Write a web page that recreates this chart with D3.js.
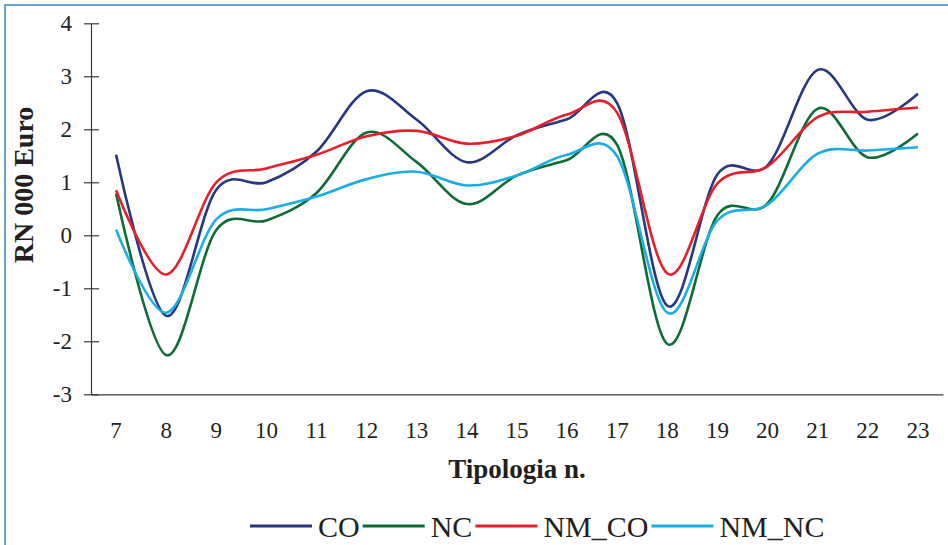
<!DOCTYPE html>
<html>
<head>
<meta charset="utf-8">
<script src="https://cdn.jsdelivr.net/npm/d3@7"></script>
<style>
  html, body { margin: 0; padding: 0; background: #fff; }
  svg { display: block; }
  text { font-family: "Liberation Serif", "Times New Roman", serif; fill: #231f20; }
</style>
</head>
<body>
<svg id="chart" width="948" height="545"></svg>
<script>
// Tipologia categories and net income (RN, thousand euro) per series
const categories = [7, 8, 9, 10, 11, 12, 13, 14, 15, 16, 17, 18, 19, 20, 21, 22, 23];
const CO    = [1.52, -1.52, 0.86, 1.00, 1.58, 2.72, 2.18, 1.38, 1.89, 2.19, 2.49, -1.33, 1.15, 1.32, 3.12, 2.18, 2.67];
const NC    = [0.79, -2.26, 0.10, 0.28, 0.80, 1.94, 1.38, 0.59, 1.13, 1.42, 1.70, -2.05, 0.38, 0.60, 2.39, 1.47, 1.92];
const NM_CO = [0.85, -0.74, 1.00, 1.26, 1.52, 1.87, 1.97, 1.73, 1.88, 2.28, 2.31, -0.72, 0.98, 1.30, 2.23, 2.33, 2.41];
const NM_NC = [0.11, -1.46, 0.30, 0.49, 0.73, 1.06, 1.20, 0.94, 1.13, 1.52, 1.49, -1.46, 0.28, 0.58, 1.54, 1.60, 1.66];
const yTicks = [-3, -2, -1, 0, 1, 2, 3, 4];
const seriesNames = ["CO", "NC", "NM_CO", "NM_NC"];
const seriesColors = ["#26387f", "#0d6b37", "#e5202b", "#1badE4"];

(function () {
  const seriesValues = [CO, NC, NM_CO, NM_NC];
  const series = seriesNames.map((name, i) => ({
    name,
    color: seriesColors[i],
    values: categories.map((c, j) => ({ cat: c, v: seriesValues[i][j] }))
  }));

  const svg = d3.select("#chart");

  // outer frame
  svg.append("rect")
    .attr("x", 5).attr("y", 5)
    .attr("width", 960).attr("height", 560)
    .attr("fill", "none")
    .attr("stroke", "#3b87c9")
    .attr("stroke-width", 1.5);

  const plotLeft = 91, plotRight = 943, plotTop = 23.3, plotBottom = 394.3;

  const x = d3.scaleBand().domain(categories).range([plotLeft, plotRight]);
  const y = d3.scaleLinear().domain([-3, 4]).range([plotBottom, plotTop]);
  const cx = c => x(c) + x.bandwidth() / 2;

  // y axis with ticks crossing the axis line
  const yAxis = svg.append("g").attr("transform", `translate(${plotLeft},0)`)
    .call(d3.axisLeft(y).tickValues(yTicks).tickSize(0).tickPadding(19).tickFormat(d => String(d)));
  yAxis.select(".domain").attr("stroke", "#3a3a3a").attr("stroke-width", 1.2);
  yAxis.selectAll(".tick line").remove();
  yAxis.selectAll(".tick").append("line")
    .attr("x1", -7).attr("x2", 8)
    .attr("stroke", "#3a3a3a").attr("stroke-width", 1.2);
  yAxis.selectAll(".tick text")
    .attr("font-size", 23)
    .attr("font-family", "Liberation Serif, serif")
    .attr("fill", "#231f20");

  // x axis: baseline only, labels under each category
  const xAxis = svg.append("g").attr("transform", `translate(0,${plotBottom})`)
    .call(d3.axisBottom(x).tickSize(0).tickPadding(27));
  xAxis.select(".domain").attr("stroke", "#3a3a3a").attr("stroke-width", 1.2);
  xAxis.selectAll(".tick text")
    .attr("font-size", 23)
    .attr("font-family", "Liberation Serif, serif")
    .attr("fill", "#231f20");

  // axis titles
  svg.append("text")
    .attr("x", (plotLeft + plotRight) / 2).attr("y", 478)
    .attr("text-anchor", "middle")
    .attr("font-size", 27).attr("font-weight", "bold")
    .text("Tipologia n.");

  svg.append("text")
    .attr("transform", "translate(33,185) rotate(-90)")
    .attr("text-anchor", "middle")
    .attr("font-size", 28).attr("font-weight", "bold")
    .text("RN 000 Euro");

  // smoothed series lines
  const line = d3.line()
    .x(d => cx(d.cat))
    .y(d => y(d.v))
    .curve(d3.curveCatmullRom.alpha(0));

  svg.append("g").selectAll("path")
    .data(series)
    .join("path")
    .attr("d", d => line(d.values))
    .attr("fill", "none")
    .attr("stroke", d => d.color)
    .attr("stroke-width", 2.6)
    .attr("stroke-linejoin", "round");

  // legend
  const legend = svg.append("g");
  let lx = 250;
  series.forEach(s => {
    legend.append("line")
      .attr("x1", lx).attr("x2", lx + 62)
      .attr("y1", 526).attr("y2", 526)
      .attr("stroke", s.color).attr("stroke-width", 3);
    const t = legend.append("text")
      .attr("x", lx + 68).attr("y", 537)
      .attr("font-size", 30)
      .text(s.name);
    lx = lx + 68 + t.node().getComputedTextLength() + 3;
  });
})();
</script>
</body>
</html>
